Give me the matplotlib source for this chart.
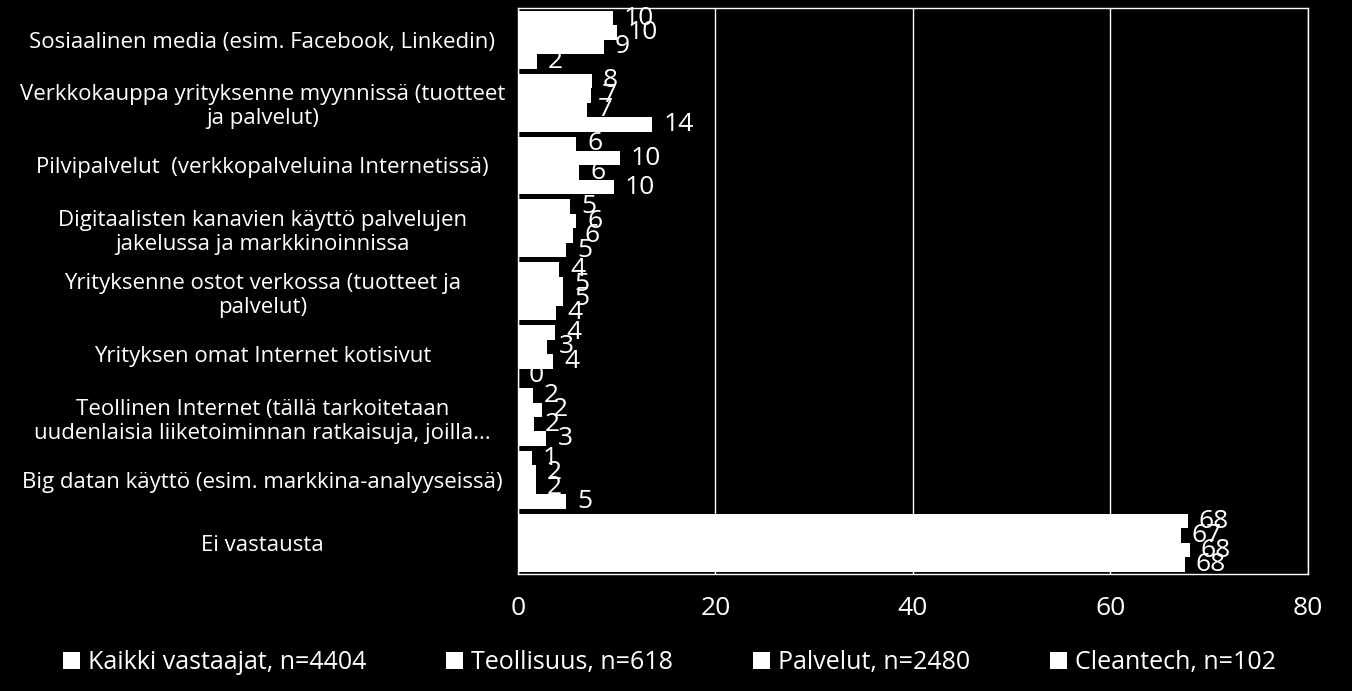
import numpy as np
from matplotlib import pyplot as plt
from matplotlib import font_manager

categories = [
    "Sosiaalinen media (esim. Facebook, Linkedin)",
    "Verkkokauppa yrityksenne myynnissä (tuotteet\nja palvelut)",
    "Pilvipalvelut  (verkkopalveluina Internetissä)",
    "Digitaalisten kanavien käyttö palvelujen\njakelussa ja markkinoinnissa",
    "Yrityksenne ostot verkossa (tuotteet ja\npalvelut)",
    "Yrityksen omat Internet kotisivut",
    "Teollinen Internet (tällä tarkoitetaan\nuudenlaisia liiketoiminnan ratkaisuja, joilla…",
    "Big datan käyttö (esim. markkina-analyyseissä)",
    "Ei vastausta",
]

series_names = ["Kaikki vastaajat, n=4404", "Teollisuus, n=618",
                "Palvelut, n=2480", "Cleantech, n=102"]

kaikki = [9.6, 7.5, 5.9, 5.3, 4.2, 3.8, 1.5, 1.4, 67.8]
teollisuus = [10.0, 7.4, 10.3, 5.9, 4.6, 3.0, 2.4, 1.8, 67.1]
palvelut = [8.7, 7.0, 6.2, 5.6, 4.6, 3.6, 1.6, 1.8, 68.0]
cleantech = [1.9, 13.6, 9.7, 4.9, 3.9, 0.0, 2.9, 4.9, 67.5]

xticks = [0, 20, 40, 60, 80]

names = [f.name for f in font_manager.fontManager.ttflist]
main_font = "Open Sans" if "Open Sans" in names else "DejaVu Sans"
plt.rcParams['font.family'] = [main_font, 'DejaVu Sans']

fig = plt.figure(figsize=(13.52, 6.91), dpi=100, facecolor='black')
ax = fig.add_axes([0.383, 0.169, 0.5845, 0.819])
ax.set_facecolor('black')

all_series = [kaikki, teollisuus, palvelut, cleantech]
h = 0.23
offsets = [-1.5 * h, -0.5 * h, 0.5 * h, 1.5 * h]
y = np.arange(len(categories))

for vals, off, name in zip(all_series, offsets, series_names):
    ax.barh(y + off, vals, height=h, color='white', edgecolor='none', label=name, zorder=3)
    # value labels, rounded like the source
    for yy, v in zip(y + off, vals):
        ax.annotate("%d" % round(v), (v, yy), xytext=(8, 0), textcoords='offset points',
                    ha='left', va='center', color='white', fontsize=19, zorder=4)

ax.set_xlim(0, 80)
ax.set_ylim(len(categories) - 0.5, -0.5)
ax.set_xticks(xticks)
ax.set_xticklabels([str(t) for t in xticks], fontsize=19, color='white')
ax.set_yticks(y)
ax.set_yticklabels(categories, fontsize=16, color='white', ha='center', multialignment='center')
ax.tick_params(axis='y', length=0, pad=184)
ax.tick_params(axis='x', length=0, pad=16)
ax.grid(axis='x', color='white', linewidth=1, zorder=1)
for s in ax.spines.values():
    s.set_color('white')
    s.set_linewidth(1)

fig.legend(loc='lower center', ncol=4, frameon=False, bbox_to_anchor=(0.495, -0.01),
           prop={'size': 18}, handlelength=0.7, handleheight=0.7,
           handletextpad=0.3, columnspacing=3.2, labelcolor='white')

plt.savefig("out.png", dpi=100, facecolor='black')
